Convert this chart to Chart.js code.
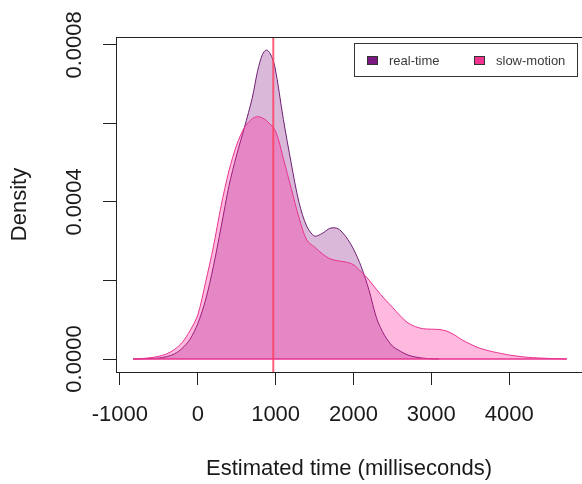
<!DOCTYPE html>
<html>
<head>
<meta charset="utf-8">
<script src="https://cdn.jsdelivr.net/npm/chart.js@4.4.1/dist/chart.umd.min.js"></script>
<style>
  html, body { margin: 0; padding: 0; background: #fff; }
  #wrap { width: 582px; height: 484px; }
</style>
</head>
<body>
<div id="wrap"><canvas id="densityChart" width="582" height="484"></canvas></div>
<script>
// Density estimates (density units)
const seriesNames = ["real-time", "slow-motion"];

const realTimeX = [-830, -700, -600, -500, -400, -300, -200, -100, 0, 100, 200, 300, 400, 500, 600, 700,
  770, 830, 880, 930, 990, 1100, 1200, 1300, 1400, 1500, 1600, 1700, 1800, 1900, 2000, 2100, 2200,
  2300, 2400, 2500, 2600, 2700, 2800, 2900, 3000, 3100];
const realTimeY = [0, 0.005e-4, 0.01e-4, 0.025e-4, 0.06e-4, 0.13e-4, 0.27e-4, 0.5e-4, 0.9e-4, 1.5e-4, 2.35e-4, 3.36e-4, 4.4e-4, 5.2e-4, 5.9e-4, 6.65e-4,
  7.35e-4, 7.75e-4, 7.87e-4, 7.78e-4, 7.45e-4, 6.1e-4, 4.99e-4, 3.99e-4, 3.38e-4, 3.13e-4, 3.2e-4, 3.33e-4, 3.32e-4, 3.12e-4, 2.8e-4, 2.35e-4, 1.75e-4,
  1.02e-4, 0.6e-4, 0.33e-4, 0.2e-4, 0.1e-4, 0.05e-4, 0.02e-4, 0.005e-4, 0];

const slowMotionX = [-830, -700, -600, -500, -400, -300, -200, -100, 0, 100, 200, 300, 400, 500, 600, 700,
  765, 830, 900, 1000, 1100, 1200, 1300, 1400, 1500, 1600, 1700, 1800, 1900, 2000, 2100, 2200, 2300,
  2400, 2500, 2600, 2700, 2800, 2900, 3000, 3100, 3200, 3300, 3400, 3500, 3600, 3700, 3800, 3900,
  4000, 4100, 4200, 4300, 4400, 4500, 4600, 4740];
const slowMotionY = [0, 0.015e-4, 0.035e-4, 0.07e-4, 0.13e-4, 0.24e-4, 0.42e-4, 0.72e-4, 1.12e-4, 1.95e-4, 2.85e-4, 3.9e-4, 4.79e-4, 5.45e-4, 5.9e-4, 6.12e-4,
  6.17e-4, 6.14e-4, 6.04e-4, 5.8e-4, 5.1e-4, 4.35e-4, 3.6e-4, 3.03e-4, 2.85e-4, 2.68e-4, 2.55e-4, 2.5e-4, 2.47e-4, 2.4e-4, 2.22e-4, 2.01e-4, 1.76e-4,
  1.53e-4, 1.32e-4, 1.1e-4, 0.92e-4, 0.82e-4, 0.77e-4, 0.76e-4, 0.75e-4, 0.71e-4, 0.61e-4, 0.48e-4, 0.38e-4, 0.29e-4, 0.23e-4, 0.18e-4, 0.14e-4,
  0.1e-4, 0.075e-4, 0.05e-4, 0.035e-4, 0.025e-4, 0.015e-4, 0.01e-4, 0];

const xTickValues = [-1000, 0, 1000, 2000, 3000, 4000];
const xTickLabels = ["-1000", "0", "1000", "2000", "3000", "4000"];
const yTickValues = [0, 0.0002, 0.0004, 0.0006, 0.0008];
const yTickLabels = ["0.0000", "", "0.0004", "", "0.0008"];
const markerTime = 970;

const family = "'Liberation Sans', Arial, Helvetica, sans-serif";
const inkColor = "#1a1a1a";
const lineColors = ["#6e1f72", "#e8338f"];
const fillColors = ["rgba(130,20,130,0.3)", "rgba(255,20,147,0.3)"];
const keyColors = ["#7a1a80", "#f0338f"];

function toPoints(xs, ys) {
  return xs.map((x, i) => ({ x: x, y: ys[i] }));
}

// box around the plot, the marker line and the framed legend
const framePlugin = {
  id: "frame",
  afterDatasetsDraw(chart) {
    const { ctx, chartArea: a, scales } = chart;
    const px = scales.x.getPixelForValue(markerTime);
    ctx.save();
    ctx.strokeStyle = "rgba(255,60,90,0.8)";
    ctx.lineWidth = 2;
    ctx.beginPath();
    ctx.moveTo(px, a.top);
    ctx.lineTo(px, a.bottom);
    ctx.stroke();
    ctx.restore();
  },
  afterDraw(chart) {
    const { ctx, chartArea: a } = chart;
    ctx.save();
    ctx.strokeStyle = "#222";
    ctx.lineWidth = 1;
    ctx.strokeRect(Math.round(a.left) + 0.5, Math.round(a.top) + 0.5,
      Math.round(a.right - a.left), Math.round(a.bottom - a.top));

    // legend
    ctx.strokeStyle = "#333";
    ctx.strokeRect(354.5, 43.5, 223, 33);
    ctx.font = "13px " + family;
    ctx.textBaseline = "middle";
    const keyX = [367, 474];
    seriesNames.forEach((name, i) => {
      ctx.fillStyle = keyColors[i];
      ctx.fillRect(keyX[i], 56, 11, 9);
      ctx.strokeStyle = "#333";
      ctx.strokeRect(keyX[i] + 0.5, 56.5, 10, 8);
      ctx.fillStyle = "#3a3a3a";
      ctx.fillText(name, keyX[i] + 22, 61.5);
    });
    ctx.restore();
  }
};

new Chart(document.getElementById("densityChart"), {
  type: "line",
  data: {
    datasets: [
      {
        label: seriesNames[0],
        data: toPoints(realTimeX, realTimeY),
        borderColor: lineColors[0],
        backgroundColor: fillColors[0],
        borderWidth: 1,
        fill: "origin",
        order: 2,
      },
      {
        label: seriesNames[1],
        data: toPoints(slowMotionX, slowMotionY),
        borderColor: lineColors[1],
        backgroundColor: fillColors[1],
        borderWidth: 1,
        fill: "origin",
        order: 1,
      },
      {
        label: "baseline",
        data: [{ x: slowMotionX[0], y: 0 }, { x: slowMotionX[slowMotionX.length - 1], y: 0 }],
        borderColor: lineColors[1],
        borderWidth: 1.5,
        tension: 0,
        fill: false,
        order: 0,
      },
    ],
  },
  options: {
    responsive: false,
    animation: false,
    devicePixelRatio: 1,
    layout: { padding: { top: 37, right: -2, left: 0, bottom: 0 } },
    elements: { point: { radius: 0 }, line: { tension: 0.3 } },
    plugins: { legend: { display: false }, tooltip: { enabled: false } },
    scales: {
      x: {
        type: "linear",
        min: -1050,
        max: 4935,
        afterBuildTicks: (s) => { s.ticks = xTickValues.map((v) => ({ value: v })); },
        afterFit: (s) => { s.height = 112; },
        grid: { drawOnChartArea: false, drawTicks: true, tickLength: 13, color: "#222", lineWidth: 1 },
        border: { display: true, color: "#222" },
        ticks: {
          padding: 17, color: inkColor, autoSkip: false, maxRotation: 0,
          font: { family: family, size: 22 },
          callback: (v, i) => xTickLabels[i],
        },
        title: {
          display: true, text: "Estimated time (milliseconds)", color: inkColor,
          font: { family: family, size: 22 }, padding: { top: 0, bottom: 2 },
        },
      },
      y: {
        type: "linear",
        min: -3.31e-5,
        max: 8.2e-4,
        afterBuildTicks: (s) => { s.ticks = yTickValues.map((v) => ({ value: v })); },
        afterFit: (s) => { s.width = 116; },
        grid: { drawOnChartArea: false, drawTicks: true, tickLength: 13, color: "#222", lineWidth: 1 },
        border: { display: true, color: "#222" },
        ticks: {
          minRotation: 90, maxRotation: 90, crossAlign: "center", padding: -6,
          color: inkColor, autoSkip: false,
          font: { family: family, size: 22 },
          callback: (v, i) => yTickLabels[i],
        },
        title: {
          display: true, text: "Density", color: inkColor,
          font: { family: family, size: 22 }, padding: { top: 7, bottom: 0 },
        },
      },
    },
  },
  plugins: [framePlugin],
});
</script>
</body>
</html>
